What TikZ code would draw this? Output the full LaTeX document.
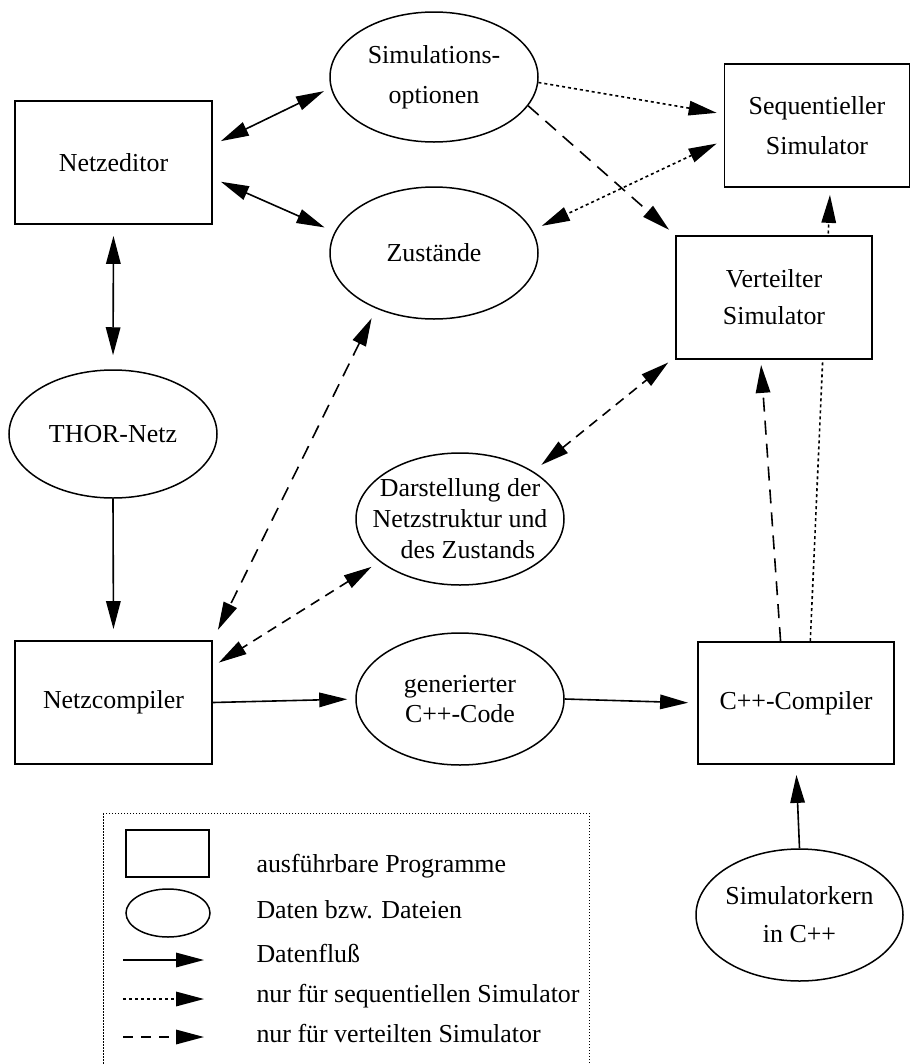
\documentclass[tikz,border=0pt]{standalone}
\usepackage{fontspec}
\setmainfont{Liberation Serif}
\usetikzlibrary{arrows.meta,shapes.geometric,backgrounds}

\begin{document}
\begin{tikzpicture}[x=1bp,y=-1bp,
  every node/.style={font=\fontsize{26}{31}\selectfont},
  prog/.style={draw, line width=1.8bp, fill=white, rectangle, inner sep=0pt,
    minimum width=197bp, minimum height=123bp, align=center},
  data/.style={draw, line width=1.5bp, fill=white, ellipse, inner xsep=-20bp,
    inner ysep=0pt, minimum width=208bp, minimum height=132bp, align=center},
  flow/.style={line width=1.6bp, -{Triangle[length=28bp,width=14.5bp]}},
  both/.style={line width=1.6bp,
    {Triangle[length=28bp,width=14.5bp]}-{Triangle[length=28bp,width=14.5bp]}},
  seqline/.style={dash pattern=on 3bp off 3bp},
  vertline/.style={dash pattern=on 14bp off 9bp},
  vertshort/.style={dash pattern=on 10bp off 7bp},
  legtext/.style={anchor=base west},
]
\useasboundingbox (0,0) rectangle (911,1064);
\clip (0,0) rectangle (911,1064);

% programs
\node[prog] (ned)   at (113.5,162.5) {Netzeditor};
\node[prog, minimum width=185bp] (seq) at (817,125.5) {Sequentieller\\[9bp]Simulator};
\node[prog, minimum width=196bp] (vert) at (774,297.5) {Verteilter\\[6bp]Simulator};
\node[prog] (ncomp) at (113.5,702.5) {Netzcompiler};
\node[prog, minimum width=196bp, minimum height=122bp] (cpp) at (796,703) {C++-Compiler};

% data
\node[data, minimum height=130bp] (simopt) at (434,77) {Simulations-\\[9bp]optionen};
\node[data] (zust)   at (434,253) {Zustände};
\node[data, minimum height=128bp] (thor) at (113,434) {THOR-Netz};
\node[data] (dar)    at (460,519) {Darstellung der\\Netzstruktur und\\\hspace*{16bp}des Zustands};
\node[data] (gen)    at (460,699) {generierter\\C++-Code};
\node[data, minimum width=207bp] (kern) at (799.5,915) {Simulatorkern\\[7bp]in C++};

% connectors: data flow
\draw[both, shorten <=8.8bp, shorten >=7.5bp] (ned.10.2) -- (simopt.186.6);
\draw[both, shorten <=8.7bp, shorten >=11bp] (ned.-9.2) -- (zust.168.2);
\draw[both, shorten <=11bp, shorten >=14bp] (ned.south) -- (thor.north);
\draw[flow, shorten >=11bp] (thor.south) -- (ncomp.north);
\draw[flow, shorten >=8bp] (ncomp.east) -- (gen.west);
\draw[flow, shorten >=9bp] (gen.east) -- (cpp.west);
\draw[flow, shorten >=10bp] (kern.north) -- (cpp.south);

% distributed simulator only
\draw[both, vertline, shorten <=10.6bp, shorten >=11.4bp] (zust.224.7) -- (ncomp.north east);
\draw[both, vertshort, shorten <=9.5bp, shorten >=7bp] (dar.208.6) -- (ncomp.20);
\draw[both, vertshort, shorten <=10.3bp, shorten >=8.9bp] (dar.33.5) -- (vert.211.5);
\draw[flow, vertline, shorten >=8bp] (simopt.-17.9) -- (vert.north west);
\draw[flow, vertline, shorten >=5bp] (cpp.104.7) -- (vert.258.6);

% sequential simulator only
\draw[flow, seqline, shorten >=7bp] (simopt.-3.3) -- (seq.173.1);
\draw[both, seqline, shorten <=7.7bp, shorten >=10.3bp] (seq.189.3) -- (zust.13.1);
\begin{scope}[on background layer]
  \draw[flow, seqline, shorten >=7bp] (cpp.77.1) -- (seq.282.2);
\end{scope}

% legend
\draw[line width=1bp, dash pattern=on 1.5bp off 1.5bp] (103,813) rectangle (589,1100);
\node[prog, line width=1.5bp, minimum width=83bp, minimum height=47bp] (lrect) at (167.5,853.5) {};
\node[data, minimum width=84bp, minimum height=48bp] (lell) at (168,913) {};
\node[legtext] (l1) at (253,872) {ausführbare Programme};
\node[legtext] (l2) at (253,918) {Daten bzw. Dateien};
\node[legtext] (l3) at (253,962) {Datenfluß};
\node[legtext] (l4) at (253,1002) {nur für sequentiellen Simulator};
\node[legtext] (l5) at (253,1042) {nur für verteilten Simulator};
\coordinate (a1s) at (123,960);  \coordinate (a1e) at (204,960);
\coordinate (a2s) at (123,999);  \coordinate (a2e) at (204,999);
\coordinate (a3s) at (123,1037); \coordinate (a3e) at (204,1037);
\draw[flow] (a1s) -- (a1e);
\draw[flow, seqline] (a2s) -- (a2e);
\draw[flow, dash pattern=on 10bp off 8bp] (a3s) -- (a3e);
\end{tikzpicture}
\end{document}
